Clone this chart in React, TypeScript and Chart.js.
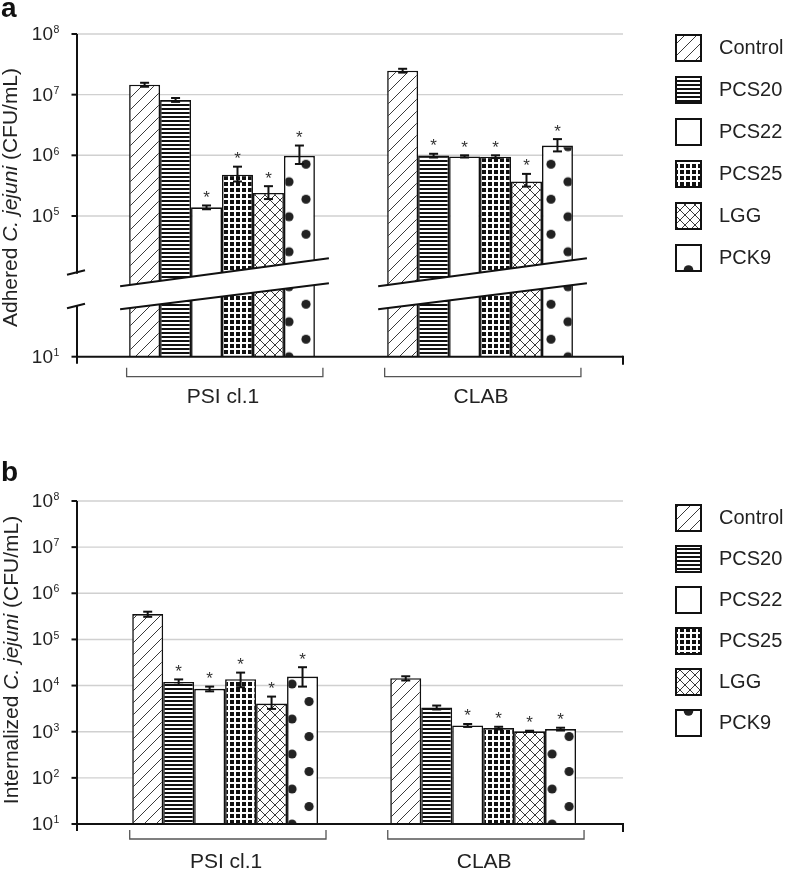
import React, { useEffect, useRef } from "react";
import { Chart, registerables } from "chart.js";

Chart.register(...registerables);

// ---------- data ----------
const GROUPS = ["PSI cl.1", "CLAB"];
const SERIES = ["Control", "PCS20", "PCS22", "PCS25", "LGG", "PCK9"];

// Panel a – adhered C. jejuni (CFU/mL)
const ADH_PSI = [1.46e7, 8.2e6, 1.39e5, 4.8e5, 2.4e5, 9.8e5];
const ADH_PSI_ERR_HI = [1.1e6, 6e5, 1e4, 1.7e5, 7e4, 4.7e5];
const ADH_PSI_ERR_LO = [1.1e6, 6e5, 1e4, 1.1e5, 5e4, 2.6e5];
const ADH_PSI_SIG = [false, false, true, true, true, true];
const ADH_CLAB = [2.49e7, 9.9e5, 9.6e5, 9.5e5, 3.69e5, 1.45e6];
const ADH_CLAB_ERR_HI = [1.8e6, 7e4, 4e4, 5e4, 1.25e5, 4e5];
const ADH_CLAB_ERR_LO = [1.8e6, 7e4, 4e4, 5e4, 6.4e4, 2.9e5];
const ADH_CLAB_SIG = [false, true, true, true, true, true];
const ADH_TICK_EXPS = [1, 5, 6, 7, 8];
const ADH_AXIS_MIN_EXP = 2.68; // broken axis: 10^1 sits at the compressed bottom

// Panel b – internalized C. jejuni (CFU/mL)
const INT_PSI = [3.54e5, 1.2e4, 8.5e3, 1.37e4, 4.07e3, 1.57e4];
const INT_PSI_ERR_HI = [4.5e4, 1.6e3, 1e3, 5.4e3, 1.7e3, 9.3e3];
const INT_PSI_ERR_LO = [4.5e4, 1.6e3, 1e3, 4.5e3, 9.5e2, 6.2e3];
const INT_PSI_SIG = [false, true, true, true, true, true];
const INT_CLAB = [1.44e4, 3.36e3, 1.37e3, 1.2e3, 1.02e3, 1.14e3];
const INT_CLAB_ERR_HI = [1.5e3, 3.3e2, 1e2, 8e1, 3e1, 8e1];
const INT_CLAB_ERR_LO = [1.5e3, 3.3e2, 1e2, 8e1, 3e1, 8e1];
const INT_CLAB_SIG = [false, false, true, true, true, true];
const INT_TICK_EXPS = [1, 2, 3, 4, 5, 6, 7, 8];

// ---------- styling ----------
const FONT = '"Liberation Sans", Arial, Helvetica, sans-serif';
const CAT_PCT = 0.72;
const W = 787;

type Panel = {
  letter: string;
  titleParts: [string, boolean][];
  vals: number[][];
  hi: number[][];
  lo: number[][];
  sig: boolean[][];
  yMin: number;
  yMax: number;
  tickExps: number[];
  broken: boolean;
  canvasH: number;
  padTop: number;
  padBottom: number;
  xMin: number;
  xMax: number;
  dotOffsets: number[];
  legendFirst: number;
  legendStep: number;
  legendDotTop: boolean;
  bracketDy: number;
  labelDy: number;
  titleX: number;
  titleY: number;
  letterY: number;
};

const PANEL_A: Panel = {
  letter: "a",
  titleParts: [["Adhered ", false], ["C. jejuni", true], [" (CFU/mL)", false]],
  vals: [ADH_PSI, ADH_CLAB],
  hi: [ADH_PSI_ERR_HI, ADH_CLAB_ERR_HI],
  lo: [ADH_PSI_ERR_LO, ADH_CLAB_ERR_LO],
  sig: [ADH_PSI_SIG, ADH_CLAB_SIG],
  yMin: Math.pow(10, ADH_AXIS_MIN_EXP),
  yMax: 1e8,
  tickExps: ADH_TICK_EXPS,
  broken: true,
  canvasH: 440,
  padTop: 34,
  padBottom: 83.3,
  xMin: -0.562,
  xMax: 1.554,
  dotOffsets: [5, 26],
  legendFirst: 48,
  legendStep: 42,
  legendDotTop: false,
  bracketDy: 20,
  labelDy: 41,
  titleX: 17,
  titleY: 197.5,
  letterY: 17,
};

const PANEL_B: Panel = {
  letter: "b",
  titleParts: [["Internalized ", false], ["C. jejuni", true], [" (CFU/mL)", false]],
  vals: [INT_PSI, INT_CLAB],
  hi: [INT_PSI_ERR_HI, INT_CLAB_ERR_HI],
  lo: [INT_PSI_ERR_LO, INT_CLAB_ERR_LO],
  sig: [INT_PSI_SIG, INT_CLAB_SIG],
  yMin: 10,
  yMax: 1e8,
  tickExps: INT_TICK_EXPS,
  broken: false,
  canvasH: 436,
  padTop: 61,
  padBottom: 52,
  xMin: -0.574,
  xMax: 1.542,
  dotOffsets: [5, 7],
  legendFirst: 78,
  legendStep: 41,
  legendDotTop: true,
  bracketDy: 15,
  labelDy: 38,
  titleX: 17.5,
  titleY: 220,
  letterY: 41,
};

// ---------- patterns ----------
function makeTile(w: number, h: number, draw: (g: CanvasRenderingContext2D) => void) {
  const c = document.createElement("canvas");
  c.width = w;
  c.height = h;
  const g = c.getContext("2d")!;
  g.fillStyle = "#fff";
  g.fillRect(0, 0, w, h);
  draw(g);
  return c;
}

function buildTiles() {
  const diag = makeTile(12, 12, (g) => {
    g.strokeStyle = "#3a3a3a";
    g.lineWidth = 1;
    g.beginPath();
    g.moveTo(-1, 13);
    g.lineTo(13, -1);
    g.moveTo(-1, 1);
    g.lineTo(1, -1);
    g.moveTo(11, 13);
    g.lineTo(13, 11);
    g.stroke();
  });
  const horiz = makeTile(4, 4, (g) => {
    g.fillStyle = "#111";
    g.fillRect(0, 0, 4, 2);
  });
  const plain = makeTile(4, 4, () => {});
  const grid = makeTile(6, 6, (g) => {
    g.fillStyle = "#111";
    g.fillRect(0, 0, 6, 6);
    g.fillStyle = "#fff";
    g.fillRect(0, 0, 6, 2);
    g.fillRect(0, 0, 2, 6);
  });
  const cross = makeTile(10, 10, (g) => {
    g.strokeStyle = "#3a3a3a";
    g.lineWidth = 1;
    g.beginPath();
    g.moveTo(-1, 11);
    g.lineTo(11, -1);
    g.moveTo(-1, -1);
    g.lineTo(11, 11);
    g.stroke();
  });
  const dots = makeTile(34, 35, (g) => {
    g.fillStyle = "#222";
    const pts = [
      [0, 0],
      [34, 0],
      [0, 35],
      [34, 35],
      [17, 17.5],
    ];
    for (const [x, y] of pts) {
      g.beginPath();
      g.arc(x, y, 4.6, 0, Math.PI * 2);
      g.fill();
    }
  });
  return { diag, horiz, plain, grid, cross, dots };
}

function line(ctx: CanvasRenderingContext2D, x1: number, y1: number, x2: number, y2: number) {
  ctx.beginPath();
  ctx.moveTo(x1, y1);
  ctx.lineTo(x2, y2);
  ctx.stroke();
}

function makePlugin(p: Panel, pats: CanvasPattern[]) {
  return {
    id: "panelDeco",
    beforeDatasetsDraw(chart: any) {
      const { ctx, chartArea: ca, scales } = chart;
      const ys = scales.y;
      ctx.save();
      ctx.strokeStyle = "#d0d0d0";
      ctx.lineWidth = 1.4;
      for (const e of p.tickExps) {
        const v = Math.pow(10, e);
        if (v <= p.yMin * 1.0001) continue;
        const y = ys.getPixelForValue(v);
        line(ctx, ca.left, y, ca.right, y);
      }
      ctx.restore();
    },
    afterDatasetsDraw(chart: any) {
      const { ctx, chartArea: ca, scales } = chart;
      const ys = scales.y;
      const xs = scales.x;
      const base = ys.getPixelForValue(p.yMin);
      const axX = ca.left;
      const metas = SERIES.map((_, i) => chart.getDatasetMeta(i));
      const groupEdges = GROUPS.map((_, g) => {
        const a = metas[0].data[g];
        const b = metas[SERIES.length - 1].data[g];
        return [a.x - a.width / 2, b.x + b.width / 2];
      });
      ctx.save();

      // axis break bands
      if (p.broken) {
        for (const [l, r] of groupEdges) {
          const bl = l - 9;
          const br = r + 14;
          const uL = base - 70.5,
            uR = base - 98.5,
            lL = base - 47.5,
            lR = base - 73.5;
          ctx.fillStyle = "#fff";
          ctx.beginPath();
          ctx.moveTo(bl, uL);
          ctx.lineTo(br, uR);
          ctx.lineTo(br, lR);
          ctx.lineTo(bl, lL);
          ctx.closePath();
          ctx.fill();
          ctx.strokeStyle = "#111";
          ctx.lineWidth = 2;
          line(ctx, bl, uL, br, uR);
          line(ctx, bl, lL, br, lR);
        }
      }

      // axes
      ctx.strokeStyle = "#111";
      ctx.lineWidth = 2;
      if (p.broken) {
        line(ctx, axX, ca.top, axX, base - 83);
        line(ctx, axX, base - 51, axX, base);
        line(ctx, axX - 10, base - 82, axX + 8, base - 86.5);
        line(ctx, axX - 10, base - 48.5, axX + 8, base - 53);
      } else {
        line(ctx, axX, ca.top, axX, base);
      }
      line(ctx, axX - 1, base, ca.right, base);
      line(ctx, axX, base, axX, base + 7);
      line(ctx, ca.right, base - 1, ca.right, base + 8);

      // ticks + tick labels
      for (const e of p.tickExps) {
        const v = Math.max(Math.pow(10, e), p.yMin);
        const y = ys.getPixelForValue(v);
        ctx.strokeStyle = "#111";
        ctx.lineWidth = 2;
        line(ctx, axX - 5.5, y, axX, y);
        ctx.fillStyle = "#222";
        ctx.textBaseline = "alphabetic";
        ctx.textAlign = "right";
        ctx.font = `19px ${FONT}`;
        ctx.fillText("10", 53, y + 6);
        ctx.textAlign = "left";
        ctx.font = `10.5px ${FONT}`;
        ctx.fillText(String(e), 53.5, y - 0.8);
      }

      // error bars + asterisks
      for (let g = 0; g < GROUPS.length; g++) {
        for (let i = 0; i < SERIES.length; i++) {
          const el = metas[i].data[g];
          const v = p.vals[g][i];
          const yT = ys.getPixelForValue(v + p.hi[g][i]);
          const yB = ys.getPixelForValue(Math.max(v - p.lo[g][i], p.yMin));
          ctx.strokeStyle = "#111";
          ctx.lineWidth = 2;
          line(ctx, el.x, yT, el.x, yB);
          line(ctx, el.x - 4.5, yT, el.x + 4.5, yT);
          line(ctx, el.x - 4.5, yB, el.x + 4.5, yB);
          if (p.sig[g][i]) {
            ctx.fillStyle = "#333";
            ctx.font = `17px ${FONT}`;
            ctx.textAlign = "center";
            ctx.textBaseline = "alphabetic";
            ctx.fillText("*", el.x, yT - 2.5);
          }
        }
      }

      // brackets + category labels
      for (let g = 0; g < GROUPS.length; g++) {
        const [l, r] = groupEdges[g];
        const bl = l - 2.5;
        const br = r + 8;
        const by = base + p.bracketDy;
        ctx.strokeStyle = "#555";
        ctx.lineWidth = 1.3;
        ctx.beginPath();
        ctx.moveTo(bl, by - 9);
        ctx.lineTo(bl, by);
        ctx.lineTo(br, by);
        ctx.lineTo(br, by - 9);
        ctx.stroke();
        ctx.fillStyle = "#222";
        ctx.font = `21px ${FONT}`;
        ctx.textAlign = "center";
        ctx.textBaseline = "middle";
        ctx.fillText(GROUPS[g], xs.getPixelForValue(g) + 1, base + p.labelDy);
      }

      // legend
      const bx = 676;
      const bw = 25;
      const bh = 26;
      for (let i = 0; i < SERIES.length; i++) {
        const cy = p.legendFirst + i * p.legendStep;
        const top = cy - bh / 2;
        ctx.save();
        ctx.beginPath();
        ctx.rect(bx, top, bw, bh);
        ctx.clip();
        ctx.fillStyle = i === SERIES.length - 1 ? "#fff" : pats[i];
        ctx.fillRect(bx, top, bw, bh);
        if (i === SERIES.length - 1) {
          ctx.fillStyle = "#222";
          ctx.beginPath();
          ctx.arc(bx + bw / 2, p.legendDotTop ? top + 1 : top + bh - 1, 4.8, 0, Math.PI * 2);
          ctx.fill();
        }
        ctx.restore();
        ctx.strokeStyle = "#111";
        ctx.lineWidth = 2;
        ctx.strokeRect(bx, top, bw, bh);
        ctx.fillStyle = "#222";
        ctx.font = `20px ${FONT}`;
        ctx.textAlign = "left";
        ctx.textBaseline = "middle";
        ctx.fillText(SERIES[i], 719, cy);
      }

      // y title
      ctx.save();
      ctx.translate(p.titleX, p.titleY);
      ctx.rotate(-Math.PI / 2);
      ctx.fillStyle = "#222";
      ctx.textBaseline = "alphabetic";
      ctx.textAlign = "left";
      const fontFor = (it: boolean) => `${it ? "italic " : ""}21px ${FONT}`;
      let total = 0;
      for (const [t, it] of p.titleParts) {
        ctx.font = fontFor(it);
        total += ctx.measureText(t).width;
      }
      let x = -total / 2;
      for (const [t, it] of p.titleParts) {
        ctx.font = fontFor(it);
        ctx.fillText(t, x, 0);
        x += ctx.measureText(t).width;
      }
      ctx.restore();

      // panel letter
      ctx.fillStyle = "#111";
      ctx.font = `bold 28px ${FONT}`;
      ctx.textAlign = "left";
      ctx.textBaseline = "alphabetic";
      ctx.fillText(p.letter, 1, p.letterY);

      ctx.restore();
    },
  };
}

function PanelChart({ p }: { p: Panel }) {
  const ref = useRef<HTMLCanvasElement | null>(null);
  useEffect(() => {
    const canvas = ref.current;
    if (!canvas) return;
    const ctx2d = canvas.getContext("2d")!;
    const tiles = buildTiles();
    const pats = [tiles.diag, tiles.horiz, tiles.plain, tiles.grid, tiles.cross, tiles.dots].map(
      (t) => ctx2d.createPattern(t, "repeat") as CanvasPattern
    );
    const dotFill = (c: any) => {
      const ch = c.chart;
      const xs = ch.scales && ch.scales.x;
      const ys = ch.scales && ch.scales.y;
      if (!xs || !ys || c.dataIndex == null) return "#fff";
      const p0 = xs.getPixelForValue(0);
      const p1 = xs.getPixelForValue(1);
      const base = ys.getPixelForValue(p.yMin);
      if (!isFinite(p0) || !isFinite(p1) || !isFinite(base)) return "#fff";
      const unit = p1 - p0;
      const gw = unit * CAT_PCT;
      const left = xs.getPixelForValue(c.dataIndex) - gw / 2 + (5 * gw) / 6;
      const pat = ch.ctx.createPattern(tiles.dots, "repeat") as CanvasPattern;
      pat.setTransform(new DOMMatrix([1, 0, 0, 1, left + p.dotOffsets[c.dataIndex], base]));
      return pat;
    };
    const chart = new Chart(canvas, {
      type: "bar",
      data: {
        datasets: SERIES.map((name, i) => ({
          label: name,
          data: GROUPS.map((_, g) => ({ x: g, y: p.vals[g][i] })),
          backgroundColor: i === SERIES.length - 1 ? dotFill : pats[i],
          borderColor: "#111",
          borderWidth: 1.6,
          base: p.yMin,
          categoryPercentage: CAT_PCT,
          barPercentage: 1,
        })) as any,
      },
      options: {
        responsive: false,
        maintainAspectRatio: false,
        animation: false,
        devicePixelRatio: 1,
        layout: { padding: { left: 77, right: W - 623, top: p.padTop, bottom: p.padBottom } },
        plugins: {
          legend: { display: false },
          tooltip: { enabled: false },
          title: { display: false },
        },
        scales: {
          x: {
            type: "linear",
            min: p.xMin,
            max: p.xMax,
            offset: false,
            display: false,
            afterBuildTicks: (s: any) => {
              s.ticks = [{ value: 0 }, { value: 1 }];
            },
          },
          y: {
            type: "logarithmic",
            min: p.yMin,
            max: p.yMax,
            offset: false,
            display: false,
          },
        },
      } as any,
      plugins: [makePlugin(p, pats) as any],
    });
    return () => chart.destroy();
  }, [p]);
  return <canvas ref={ref} width={W} height={p.canvasH} style={{ display: "block" }} />;
}

export default function App() {
  return (
    <div style={{ position: "absolute", left: 0, top: 0, width: W, height: 876, background: "#fff" }}>
      <PanelChart p={PANEL_A} />
      <PanelChart p={PANEL_B} />
    </div>
  );
}
